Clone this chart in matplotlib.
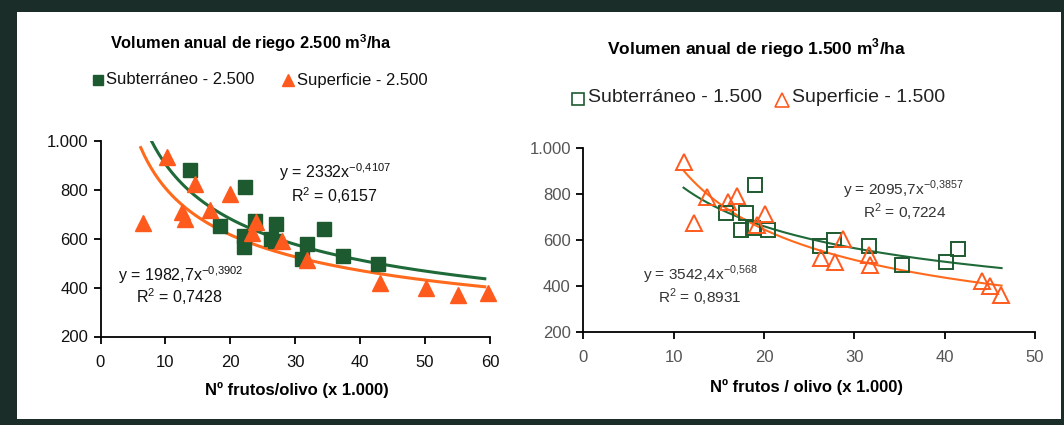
import numpy as np
import matplotlib
matplotlib.use("Agg")
import matplotlib.pyplot as plt
from matplotlib.patches import Rectangle

plt.rcParams['font.family'] = ['Liberation Sans', 'DejaVu Sans']

# ---------------- data ----------------
# Left chart: 2.500 m3/ha
sub25_x = [13.8, 22.2, 18.4, 22.1, 22.1, 23.8, 27.1, 26.2, 26.9, 31.8, 31.0, 34.4, 37.4, 42.8]
sub25_y = [880, 813, 652, 613, 568, 673, 660, 600, 592, 578, 518, 640, 530, 496]
sup25_x = [6.5, 10.2, 14.6, 12.6, 13.0, 16.9, 20.0, 23.9, 23.3, 28.0, 31.8, 43.0, 50.1, 55.0, 59.7]
sup25_y = [665, 936, 826, 710, 680, 716, 784, 670, 622, 590, 512, 418, 398, 370, 377]
# Right chart: 1.500 m3/ha
sub15_x = [15.8, 19.0, 18.0, 17.5, 18.8, 20.4, 26.2, 27.7, 31.6, 35.3, 40.1, 41.5]
sub15_y = [716, 840, 719, 644, 651, 644, 574, 600, 575, 491, 503, 559]
sup15_x = [11.1, 12.3, 13.7, 16.0, 17.0, 20.1, 19.2, 28.8, 26.3, 27.9, 31.6, 31.7, 44.1, 45.0, 46.2]
sup15_y = [942, 673, 789, 767, 793, 712, 665, 603, 520, 505, 535, 491, 421, 399, 360]

# Power trendlines (coefficient, exponent, x-range)
fit_sub25 = (2332.0, -0.4107, 7.9, 59.2)
fit_sup25 = (1982.7, -0.3902, 6.2, 59.2)
fit_sub15 = (2095.7, -0.3857, 11.1, 46.3)
fit_sup15 = (3542.4, -0.568, 11.1, 46.3)

yticks = [200, 400, 600, 800, 1000]
ytick_labels = ['200', '400', '600', '800', '1.000']
xticks_left = [0, 10, 20, 30, 40, 50, 60]
xticks_right = [0, 10, 20, 30, 40, 50]

GREEN = '#1d5a2f'
GREEN_LINE = '#1f6a38'
ORANGE = '#ff5a1e'
ORANGE_LINE = '#ff6a1c'
BG = '#1b2d29'

W, H = 1064, 425
fig = plt.figure(figsize=(W / 100, H / 100), dpi=100)
fig.patch.set_facecolor(BG)


def fx(px):
    return px / W


def fy(py):
    return 1 - py / H


# white panel
fig.patches.append(Rectangle((fx(17), fy(419)), fx(1061) - fx(17), fy(12) - fy(419),
                             transform=fig.transFigure, facecolor='white',
                             edgecolor='none', zorder=-10))


def make_axes(l, r, top, bottom):
    ax = fig.add_axes([fx(l), fy(bottom), fx(r) - fx(l), fy(top) - fy(bottom)])
    ax.set_zorder(1)
    return ax


def style(ax, xmax, xticks, lab_color, fs):
    ax.set_facecolor('none')
    ax.set_xlim(0, xmax)
    ax.set_ylim(200, 1000)
    for s in ['top', 'right']:
        ax.spines[s].set_visible(False)
    for s in ['left', 'bottom']:
        ax.spines[s].set_color('black')
        ax.spines[s].set_linewidth(1.3)
    ax.set_yticks(yticks)
    ax.set_yticklabels(ytick_labels)
    ax.set_xticks(xticks)
    ax.tick_params(axis='both', direction='out', length=5, width=1.3, color='black',
                   labelsize=fs, labelcolor=lab_color, pad=4)
    ax.tick_params(axis='x', pad=8)


# ---------------- left chart ----------------
axL = make_axes(100.5, 490, 141, 336.5)
style(axL, 60, xticks_left, '#111111', 12)
for (a, b, x0, x1), col in [(fit_sub25, GREEN_LINE), (fit_sup25, ORANGE_LINE)]:
    xx = np.linspace(x0, x1, 200)
    axL.plot(xx, a * xx ** b, color=col, lw=2.2, zorder=2)
axL.plot(sub25_x, sub25_y, ls='none', marker='s', ms=9.5, mfc=GREEN, mec=GREEN, zorder=3, clip_on=False)
axL.plot(sup25_x, sup25_y, ls='none', marker='^', ms=11, mfc=ORANGE, mec=ORANGE, zorder=3, clip_on=False)

# ---------------- right chart ----------------
axR = make_axes(583.3, 1035, 148.3, 331.7)
style(axR, 50, xticks_right, '#555555', 12)
for (a, b, x0, x1), col in [(fit_sub15, GREEN_LINE), (fit_sup15, ORANGE_LINE)]:
    xx = np.linspace(x0, x1, 200)
    axR.plot(xx, a * xx ** b, color=col, lw=1.5, zorder=2)
axR.plot(sub15_x, sub15_y, ls='none', marker='s', ms=9.5, mfc='none', mec=GREEN, mew=1.4, zorder=3)
axR.plot(sup15_x, sup15_y, ls='none', marker='^', ms=11, mfc='none', mec=ORANGE, mew=1.4, zorder=3)

# ---------------- texts ----------------
fig.text(fx(251), fy(43), r'Volumen anual de riego 2.500 m$^{\mathregular{3}}$/ha',
         ha='center', va='center', fontsize=11.8, fontweight='bold', color='black')
fig.text(fx(757), fy(48), r'Volumen anual de riego 1.500 m$^{\mathregular{3}}$/ha',
         ha='center', va='center', fontsize=12.5, fontweight='bold', color='black')

# legends (left)
fig.lines.append(plt.Line2D([fx(98)], [fy(80)], transform=fig.transFigure, ls='none',
                            marker='s', ms=7, mfc=GREEN, mec=GREEN))
fig.text(fx(106), fy(80), 'Subterráneo - 2.500', ha='left', va='center', fontsize=12, color='#111111')
fig.lines.append(plt.Line2D([fx(288)], [fy(80)], transform=fig.transFigure, ls='none',
                            marker='^', ms=9, mfc=ORANGE, mec=ORANGE))
fig.text(fx(297), fy(80), 'Superficie - 2.500', ha='left', va='center', fontsize=12, color='#111111')

# legends (right)
fig.lines.append(plt.Line2D([fx(578)], [fy(99)], transform=fig.transFigure, ls='none',
                            marker='s', ms=8.5, mfc='none', mec=GREEN, mew=1.2))
fig.text(fx(588), fy(98), 'Subterráneo - 1.500', ha='left', va='center', fontsize=14, color='#222222')
fig.lines.append(plt.Line2D([fx(782)], [fy(100)], transform=fig.transFigure, ls='none',
                            marker='^', ms=9.5, mfc='none', mec=ORANGE, mew=1.2))
fig.text(fx(792), fy(98), 'Superficie - 1.500', ha='left', va='center', fontsize=14, color='#222222')

# equations
eq_kw = dict(ha='center', va='center', color='#111111', fontsize=11.5)
fig.text(fx(335), fy(172), r'y = 2332x$^{\mathregular{-0{,}4107}}$', **eq_kw)
fig.text(fx(334), fy(196), r'R$^{\mathregular{2}}$ = 0,6157', **eq_kw)
fig.text(fx(181), fy(275), r'y = 1982,7x$^{\mathregular{-0{,}3902}}$', **eq_kw)
fig.text(fx(179), fy(297), r'R$^{\mathregular{2}}$ = 0,7428', **eq_kw)

eq_kw2 = dict(ha='center', va='center', color='#333333', fontsize=11.1)
fig.text(fx(903), fy(190), r'y = 2095,7x$^{\mathregular{-0{,}3857}}$', **eq_kw2)
fig.text(fx(905), fy(212), r'R$^{\mathregular{2}}$ = 0,7224', **eq_kw2)
fig.text(fx(700), fy(275), r'y = 3542,4x$^{\mathregular{-0{,}568}}$', **eq_kw2)
fig.text(fx(700), fy(297), r'R$^{\mathregular{2}}$ = 0,8931', **eq_kw2)

# axis labels
fig.text(fx(297), fy(390), 'Nº frutos/olivo (x 1.000)', ha='center', va='center',
         fontsize=12, fontweight='bold', color='black')
fig.text(fx(807), fy(387), 'Nº frutos / olivo (x 1.000)', ha='center', va='center',
         fontsize=12, fontweight='bold', color='black')

fig.savefig('out.png', dpi=100, facecolor=fig.get_facecolor())
